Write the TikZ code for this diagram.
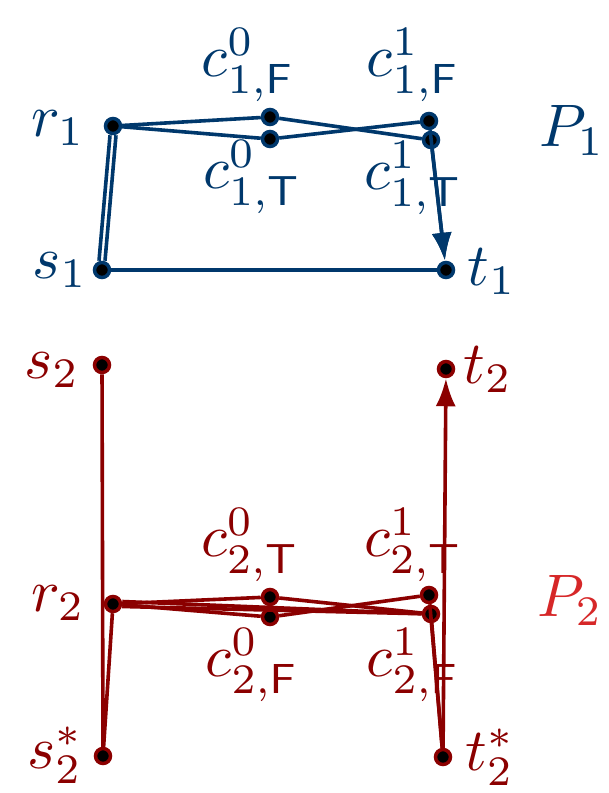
\documentclass[tikz,border=0pt]{standalone}
\usepackage{amsmath}
\usetikzlibrary{arrows.meta}
\definecolor{azul}{RGB}{0,56,108}
\definecolor{vinho}{RGB}{139,0,0}
\definecolor{vermelho}{RGB}{214,39,40}
\tikzset{
    vertice/.style={circle, fill=black, draw, line width=3.5pt, minimum size=15pt, inner sep=0pt},
    aresta/.style={line width=3.6pt},
    seta/.style={aresta, -{Latex[length=28pt,width=20pt]}},
    rotulo/.style={scale=6, inner sep=0pt}
}

\begin{document}
\begin{tikzpicture}[x=1pt, y=-1pt]
    \useasboundingbox (0,0) rectangle (609,793);

    % caminho P_1
    \begin{scope}[azul]
    \node[vertice] (r1) at (113,126) {};
    \node[vertice] (s1) at (102,270) {};
    \node[vertice] (t1) at (446,270) {};
    \node[vertice] (c0F1) at (270,117) {};
    \node[vertice] (c0T1) at (270,139) {};
    \node[vertice] (c1F1) at (429,121) {};
    \node[vertice] (c1T1) at (431,140) {};
    \node[rotulo] (lr1) at (58,128) {$r_1$};
    \node[rotulo] (ls1) at (60,270) {$s_1$};
    \node[rotulo] (lt1) at (492,272) {$t_1$};
    \node[rotulo] (lc0F1) at (248,65) {$c^0_{1,\mathsf{F}}$};
    \node[rotulo] (lc1F1) at (413,65) {$c^1_{1,\mathsf{F}}$};
    \node[rotulo] (lc0T1) at (252,177) {$c^0_{1,\mathsf{T}}$};
    \node[rotulo] (lc1T1) at (413,178) {$c^1_{1,\mathsf{T}}$};
    \node[rotulo] (P1) at (572,130) {$P_1$};
    \draw[aresta] ([xshift=-3pt]s1.north) -- ([xshift=-3pt]r1.south);
    \draw[aresta] ([xshift=3pt]s1.north) -- ([xshift=3pt]r1.south);
    \draw[aresta] (r1) -- (c0F1) -- (c1T1);
    \draw[aresta] (r1) -- (c0T1) -- (c1F1);
    \draw[aresta] (s1) -- (t1);
    \draw[seta] (c1F1) -- (t1);
    \draw[seta] (c1T1) -- (t1);
    \end{scope}

    % caminho P_2
    \begin{scope}[vinho]
    \node[vertice] (s2) at (102,365) {};
    \node[vertice] (t2) at (446,369) {};
    \node[vertice] (r2) at (113,604) {};
    \node[vertice] (c0T2) at (270,597) {};
    \node[vertice] (c0F2) at (270,617) {};
    \node[vertice] (c1T2) at (429,595) {};
    \node[vertice] (c1F2) at (431,614) {};
    \node[vertice] (ss2) at (103,756) {};
    \node[vertice] (tt2) at (443,757) {};
    \node[rotulo] (ls2) at (52,370) {$s_2$};
    \node[rotulo] (lt2) at (488,370) {$t_2$};
    \node[rotulo] (lr2) at (58,603) {$r_2$};
    \node[rotulo] (lc0T2) at (250,545) {$c^0_{2,\mathsf{T}}$};
    \node[rotulo] (lc1T2) at (413,545) {$c^1_{2,\mathsf{T}}$};
    \node[rotulo] (lc0F2) at (252,665) {$c^0_{2,\mathsf{F}}$};
    \node[rotulo] (lc1F2) at (413,665) {$c^1_{2,\mathsf{F}}$};
    \node[rotulo] (lss2) at (55,755) {$s^*_2$};
    \node[rotulo] (ltt2) at (490,757) {$t^*_2$};
    \node[rotulo, vermelho] (P2) at (570,600) {$P_2$};
    \draw[aresta] (s2) -- (ss2) -- (r2);
    \draw[aresta] (r2) -- (c0T2) -- (c1F2);
    \draw[aresta] (r2) -- (c0F2) -- (c1T2);
    \draw[aresta] ([yshift=2.5pt]r2.east) -- (c1F2);
    \draw[aresta] ([yshift=-2.5pt]r2.east) -- (c1F2);
    \draw[aresta] (c1T2) -- (tt2);
    \draw[aresta] (c1F2) -- (tt2);
    \draw[seta] (tt2) -- (t2);
    \end{scope}
\end{tikzpicture}
\end{document}
